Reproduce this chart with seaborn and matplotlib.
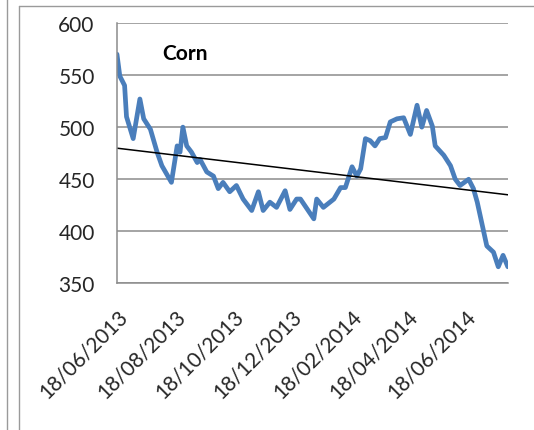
import pandas as pd
import numpy as np
import seaborn as sns
import matplotlib.pyplot as plt
import matplotlib.dates as mdates
from matplotlib.lines import Line2D

# corn prices
dates = ['2013-06-18', '2013-06-21', '2013-06-26', '2013-06-28', '2013-07-05', '2013-07-12',
         '2013-07-16', '2013-07-23', '2013-07-30', '2013-08-04', '2013-08-14', '2013-08-20',
         '2013-08-23', '2013-08-26', '2013-08-30', '2013-09-04', '2013-09-10', '2013-09-13',
         '2013-09-20', '2013-09-27', '2013-10-02', '2013-10-07', '2013-10-14', '2013-10-21',
         '2013-10-28', '2013-11-06', '2013-11-13', '2013-11-18', '2013-11-25', '2013-12-02',
         '2013-12-11', '2013-12-16', '2013-12-23', '2013-12-27', '2014-01-10', '2014-01-13',
         '2014-01-20', '2014-01-31', '2014-02-07', '2014-02-12', '2014-02-19', '2014-02-24',
         '2014-02-28', '2014-03-05', '2014-03-10', '2014-03-15', '2014-03-20', '2014-03-26',
         '2014-03-31', '2014-04-07', '2014-04-14', '2014-04-21', '2014-04-28', '2014-05-03',
         '2014-05-08', '2014-05-14', '2014-05-17', '2014-05-26', '2014-06-02', '2014-06-07',
         '2014-06-12', '2014-06-21', '2014-06-26', '2014-06-30', '2014-07-05', '2014-07-10',
         '2014-07-17', '2014-07-22', '2014-07-27', '2014-08-01']
corn = [570, 549, 540, 510, 489, 527, 508, 498, 476, 463,
        447, 482, 476, 500, 482, 476, 466, 469, 457, 453,
        441, 447, 438, 444, 431, 420, 438, 420, 428, 423,
        439, 421, 431, 431, 412, 431, 423, 431, 442, 442,
        462, 453, 460, 489, 487, 482, 489, 490, 505, 508,
        509, 493, 521, 500, 516, 501, 482, 473, 463, 450,
        444, 450, 441, 428, 407, 386, 380, 366, 377, 366]
tick_dates = ['2013-06-18', '2013-08-18', '2013-10-18', '2013-12-18',
              '2014-02-18', '2014-04-18', '2014-06-18']
y_ticks = [350, 400, 450, 500, 550, 600]

df = pd.DataFrame({'date': pd.to_datetime(dates), 'price': corn})
df['num'] = mdates.date2num(df['date'])

# linear trend, each reading weighted by the time span it covers
w = np.gradient(df['num'].values)
coef = np.polyfit(df['num'], df['price'], 1, w=np.sqrt(w))
df['trend'] = np.polyval(coef, df['num'])

sns.set_theme(style="white")
plt.rcParams['font.family'] = ['Lato', 'DejaVu Sans']

fig = plt.figure(figsize=(5.34, 4.31), dpi=100)
ax = fig.add_axes([0.219, 0.340, 0.732, 0.6045])

sns.lineplot(x='num', y='price', data=df, ax=ax, color='#4a7ebb', linewidth=3.4)
sns.lineplot(x='num', y='trend', data=df, ax=ax, color='black', linewidth=1.1)

ax.set_xlim(df['num'].iloc[0], df['num'].iloc[-1])
ax.set_ylim(350, 600)
ax.set_yticks(y_ticks)
ax.set_yticklabels([str(v) for v in y_ticks], fontsize=15, color='#262626')
tk = mdates.date2num(pd.to_datetime(tick_dates))
ax.set_xticks(tk)
ax.set_xticklabels(pd.to_datetime(tick_dates).strftime('%d/%m/%Y'), rotation=45,
                   ha='right', va='top', rotation_mode='anchor', fontsize=15, color='#262626')
ax.tick_params(axis='both', length=0)
ax.tick_params(axis='y', pad=16)
ax.tick_params(axis='x', pad=16)
ax.set_xlabel('')
ax.set_ylabel('')

ax.grid(axis='y', color='#8c8c8c', linewidth=1.1)
ax.set_axisbelow(True)
for s in ['top', 'right']:
    ax.spines[s].set_visible(False)
ax.spines['left'].set_color('#8c8c8c')
ax.spines['bottom'].set_color('#8c8c8c')
ax.spines['left'].set_linewidth(1.1)
ax.spines['bottom'].set_linewidth(1.1)

ax.text(0.115, 0.885, 'Corn', transform=ax.transAxes, fontsize=15, fontweight='bold',
        color='black', va='center')

# chart borders
fig.add_artist(Line2D([0.014, 0.014], [0, 1], color='#9a9a9a', linewidth=1.0))
fig.add_artist(Line2D([0.035, 0.035], [0, 0.9826], color='#9a9a9a', linewidth=1.0))
fig.add_artist(Line2D([0.035, 1.0], [0.9826, 0.9826], color='#9a9a9a', linewidth=1.0))

plt.savefig('out.png', dpi=100)
plt.close()
